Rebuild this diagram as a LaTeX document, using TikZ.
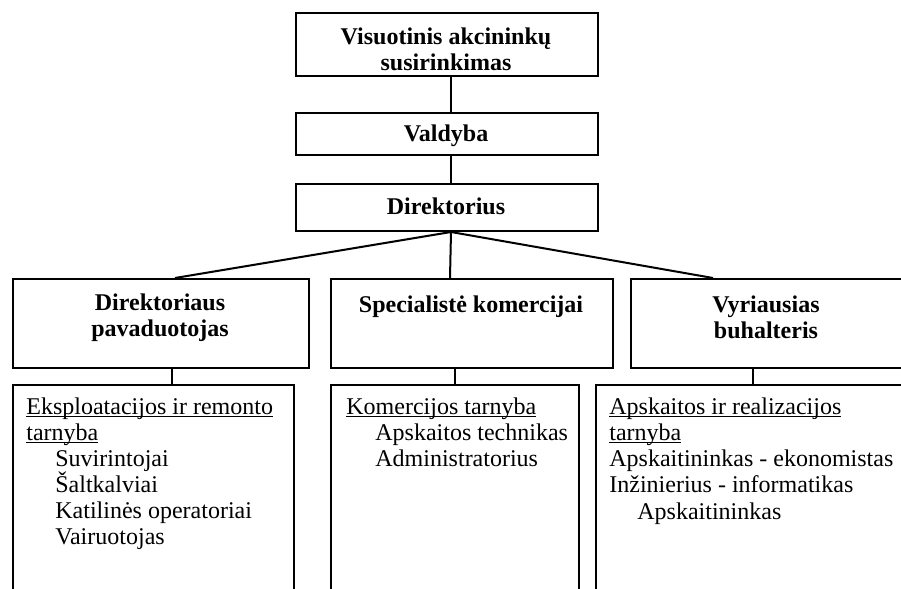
\documentclass[tikz,border=0pt]{standalone}
\usepackage{fontspec}
\setmainfont{Liberation Serif}
\usetikzlibrary{positioning,calc}
\newcommand{\ultext}[1]{\underline{\raisebox{0pt}[\height][0pt]{#1}}}

\begin{document}
\begin{tikzpicture}[x=0.5pt, y=-0.5pt,
    orgbox/.style={draw, line width=1pt, rectangle, anchor=north west, inner sep=0pt},
    head/.style={font=\bfseries\fontsize{12}{13}\selectfont, align=center, anchor=north, inner sep=0pt},
    staff/.style={font=\fontsize{12}{13}\selectfont, align=left, anchor=north west, inner sep=0pt},
    link/.style={line width=1pt}]
    \clip (0,0) rectangle (901,589);

    % Management chain
    \node[orgbox, minimum width=151pt, minimum height=31.5pt] (meeting) at (295,12) {};
    \node[orgbox, minimum width=151pt, minimum height=21pt] (board) at (295,112) {};
    \node[orgbox, minimum width=151pt, minimum height=23.5pt] (director) at (295,183) {};
    \node[head] (meetingtxt) at (446,27) {Visuotinis akcininkų\\susirinkimas};
    \node[head] (boardtxt) at (446,124) {Valdyba};
    \node[head] (directortxt) at (446,197) {Direktorius};

    % Second level
    \node[orgbox, minimum width=148pt, minimum height=44.5pt] (deputy) at (12,278) {};
    \node[orgbox, minimum width=141pt, minimum height=44.5pt] (spec) at (330,278) {};
    \node[orgbox, minimum width=150pt, minimum height=44.5pt] (chief) at (630,278) {};
    \node[head] (deputytxt) at (160,293) {Direktoriaus\\pavaduotojas};
    \node[head] (spectxt) at (471,295) {Specialistė komercijai};
    \node[head] (chieftxt) at (766,295) {Vyriausias\\buhalteris};

    % Services
    \node[orgbox, minimum width=140.5pt, minimum height=115pt] (ops) at (12,384) {};
    \node[orgbox, minimum width=124pt, minimum height=115pt] (com) at (330,384) {};
    \node[orgbox, minimum width=165pt, minimum height=115pt] (acc) at (595,384) {};

    \node[staff] (opstxt) at (26,397) {\ultext{Eksploatacijos ir remonto}\\\ultext{tarnyba}};
    \node[staff] (opslist) at (55,450) {Suvirintojai\\Šaltkalviai\\Katilinės operatoriai\\Vairuotojas};
    \node[staff] (comtxt) at (346,397) {\ultext{Komercijos tarnyba}};
    \node[staff] (comlist) at (375,423) {Apskaitos technikas\\Administratorius};
    \node[staff] (acctxt) at (609,397) {\ultext{Apskaitos ir realizacijos}\\\ultext{tarnyba}\\Apskaitininkas - ekonomistas\\Inžinierius - informatikas};
    \node[staff] (acclist) at (637,502) {Apskaitininkas};

    % Connectors
    \draw[link] ($(meeting.south)+(4,0)$) -- ($(board.north)+(4,0)$);
    \draw[link] ($(board.south)+(4,0)$) -- ($(director.north)+(4,0)$);
    \draw[link] ($(director.south)+(4,0)$) -- ($(deputy.north west)+(163,0)$);
    \draw[link] ($(director.south)+(4,0)$) -- ($(spec.north west)+(120,0)$);
    \draw[link] ($(director.south)+(4,0)$) -- ($(chief.north west)+(83,0)$);
    \draw[link] ($(deputy.south west)+(160,0)$) -- ($(ops.north west)+(160,0)$);
    \draw[link] ($(spec.south west)+(125,0)$) -- ($(com.north west)+(125,0)$);
    \draw[link] ($(chief.south west)+(123,0)$) -- ($(acc.north west)+(158,0)$);
\end{tikzpicture}
\end{document}
